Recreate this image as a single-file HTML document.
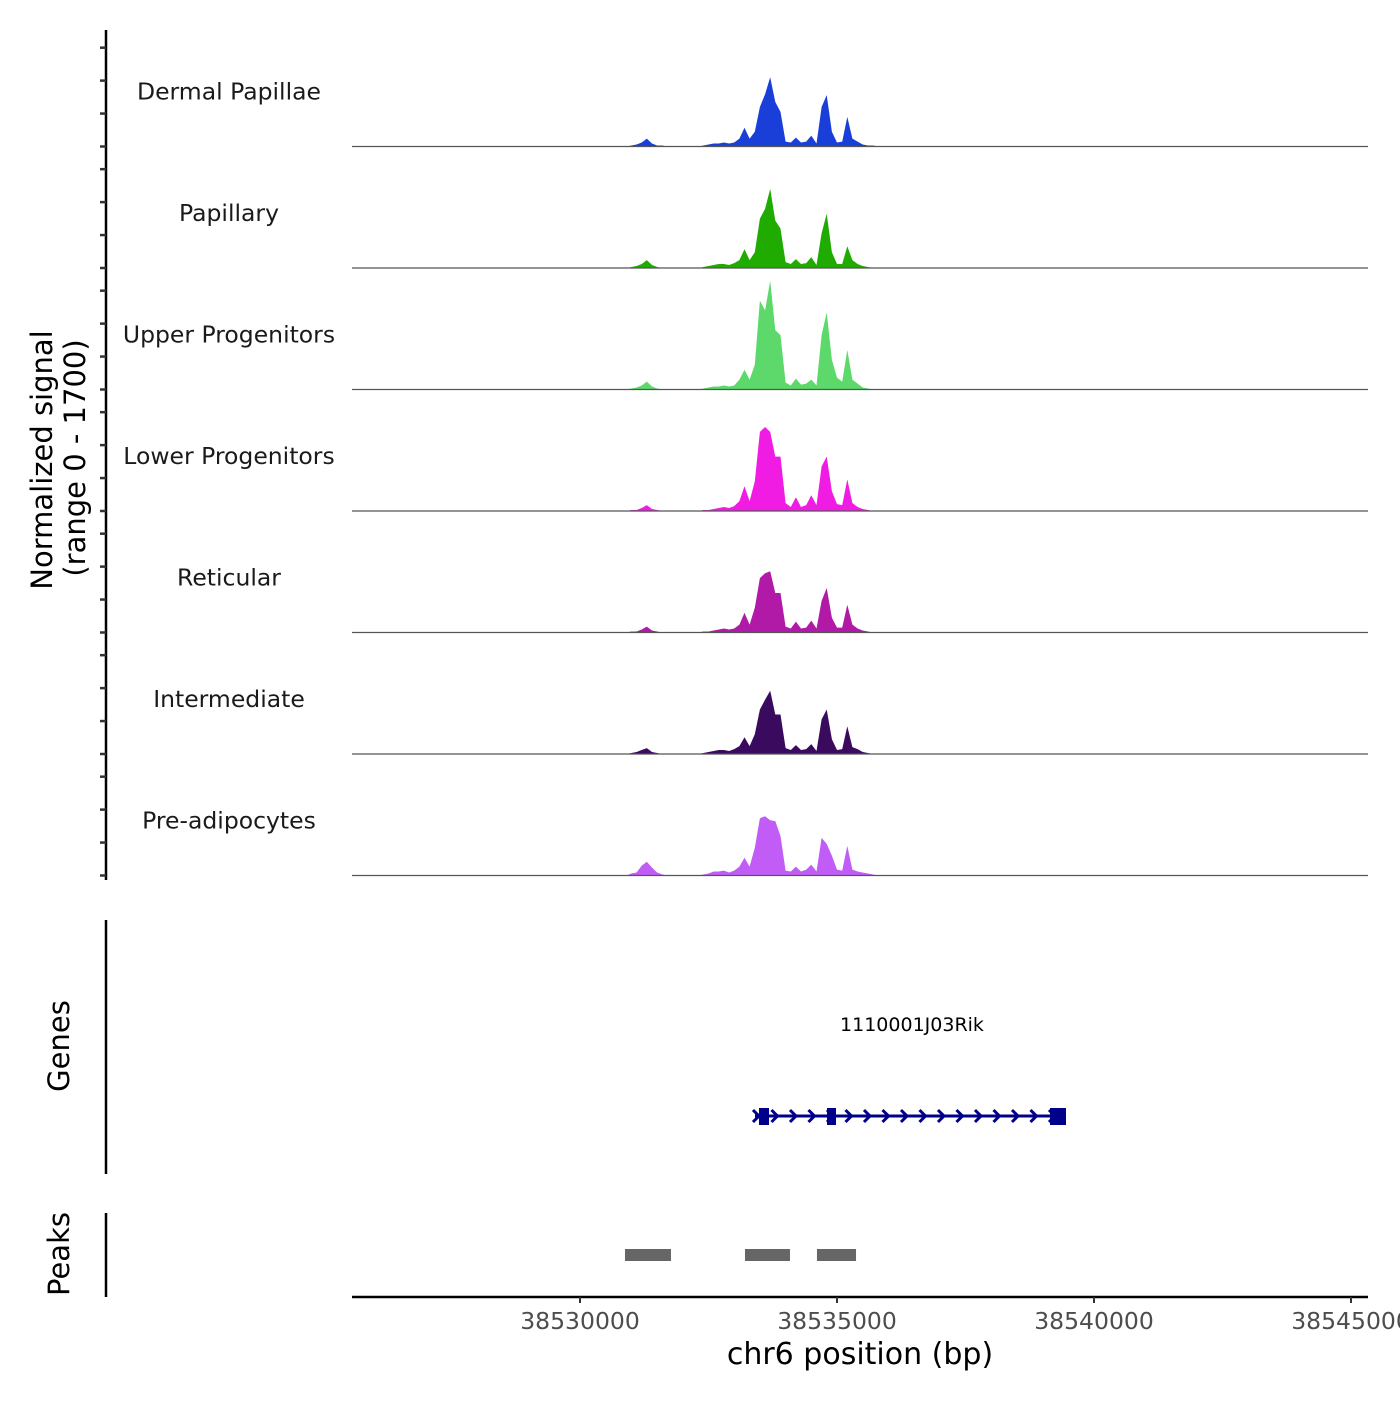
<!DOCTYPE html>
<html><head><meta charset="utf-8"><style>
body{margin:0;background:#fff;}
svg text{font-family:"DejaVu Sans","Liberation Sans",sans-serif;}
</style></head><body>
<svg id="chart" width="1400" height="1400" xmlns="http://www.w3.org/2000/svg">
<g id="tracks"></g>
<g id="yaxis"><line x1="106" y1="30" x2="106" y2="880" stroke="#000" stroke-width="2.5"/></g>
<text transform="translate(52,460) rotate(-90)" text-anchor="middle" font-size="29">Normalized signal</text>
<text transform="translate(85,458) rotate(-90)" text-anchor="middle" font-size="29">(range 0 - 1700)</text>
<g id="genes">
<line x1="106" y1="920" x2="106" y2="1174" stroke="#000" stroke-width="2.5"/>
<text transform="translate(69,1046) rotate(-90)" text-anchor="middle" font-size="29">Genes</text>
<text x="912" y="1031" text-anchor="middle" font-size="19">1110001J03Rik</text>
</g>
<g id="peaks">
<line x1="106" y1="1213" x2="106" y2="1297" stroke="#000" stroke-width="2.5"/>
<text transform="translate(69,1254) rotate(-90)" text-anchor="middle" font-size="29">Peaks</text>
</g>
<g id="xaxis">
<line x1="352" y1="1297" x2="1368" y2="1297" stroke="#000" stroke-width="2.5"/>
<text x="860" y="1364" text-anchor="middle" font-size="30">chr6 position (bp)</text>
</g>
</svg>
<script>
const trackNames=["Dermal Papillae","Papillary","Upper Progenitors","Lower Progenitors","Reticular","Intermediate","Pre-adipocytes"];
const trackColors=["#1a3fd9","#1fab00","#5cd96a","#f01ce3","#b01aa6","#3a0a5e","#c15cf7"];
const binStart=38530800;
const binStep=100;
const dermalPapillae=[0,0,15,30,60,120,45,15,15,0,0,0,0,0,0,0,15,30,45,45,60,45,60,120,285,120,225,600,795,1050,675,525,75,60,135,60,75,165,45,600,780,225,60,75,450,120,75,30,15,15,0];
const papillary=[0,0,15,30,60,120,45,15,0,0,0,0,0,0,0,0,15,30,45,60,60,45,75,120,285,120,240,750,900,1200,720,600,90,60,135,60,75,165,45,525,825,240,60,60,330,120,60,30,15,0,0];
const upperProgenitors=[0,0,15,30,60,120,45,15,0,0,0,0,0,0,0,0,15,30,45,45,60,45,60,150,300,150,375,1350,1200,1650,900,825,105,60,165,75,90,150,60,825,1170,450,180,120,600,150,90,30,15,0,0];
const lowerProgenitors=[0,0,15,15,45,90,30,15,0,0,0,0,0,0,0,0,15,15,30,45,60,45,75,150,375,150,450,1200,1275,1200,825,825,120,60,210,60,90,240,90,675,825,300,105,90,480,120,60,30,15,0,0];
const reticular=[0,0,15,15,45,90,30,15,0,0,0,0,0,0,0,0,15,15,30,45,60,45,60,120,300,120,375,825,900,930,600,600,90,60,165,60,75,180,60,480,675,225,75,75,420,120,60,30,15,0,0];
const intermediate=[0,0,15,30,60,90,30,15,0,0,0,0,0,0,0,0,15,30,45,60,60,45,75,120,255,120,300,675,825,960,600,600,90,60,135,60,75,150,45,525,675,225,60,75,420,105,75,30,15,0,0];
const preAdipocytes=[0,0,30,45,150,210,120,45,15,0,0,0,0,0,0,0,15,30,60,60,75,45,75,135,270,135,420,870,900,840,825,600,75,60,135,60,90,165,60,570,480,300,90,75,450,90,60,45,30,15,0];
const trackValues=[dermalPapillae,papillary,upperProgenitors,lowerProgenitors,reticular,intermediate,preAdipocytes];
const yTicks=[0,500,1000,1500];
const xTicks=[38530000,38535000,38540000,38545000];
const peakStarts=[38530875,38533210,38534610];
const peakEnds=[38531770,38534085,38535370];
const exonStarts=[38533482,38534805,38539144];
const exonEnds=[38533677,38534980,38539455];
const geneStart=38533404;
const geneEnd=38539435;

const NS="http://www.w3.org/2000/svg";
const xScale=bp=>352+(bp-38525564)*257/5000;
const trackH=121.5, firstBase=146.5, yMax=1700, pxMax=112;
const yScale=(v,t)=>firstBase+t*trackH - v/yMax*pxMax;
function mk(tag,attrs,parent){const e=document.createElementNS(NS,tag);for(const k in attrs)e.setAttribute(k,attrs[k]);parent.appendChild(e);return e;}
const tracks=document.getElementById('tracks');
const yaxis=document.getElementById('yaxis');
trackValues.forEach((vals,t)=>{
  const g=mk('g',{},tracks);
  
  
  const base=yScale(0,t);
  let d='M'+xScale(binStart)+','+base;
  vals.forEach((v,i)=>{d+=' L'+xScale(binStart+i*binStep).toFixed(1)+','+yScale(v,t).toFixed(1);});
  d+=' L'+xScale(binStart+(vals.length-1)*binStep)+','+base+' Z';
  const a=mk('path',{d:d,fill:trackColors[t]},g);
  
  
  const bl=mk('line',{x1:352,x2:1368,y1:base,y2:base,stroke:'#555','stroke-width':1.2},g);
  
  
  const lb=mk('text',{x:229,y:base-47,'text-anchor':'middle','font-size':23.5,fill:'#1a1a1a'},g);
  lb.textContent=trackNames[t];
  
  
  yTicks.forEach(v=>{
    const tk=mk('line',{x1:100,x2:106,y1:yScale(v,t),y2:yScale(v,t),stroke:'#333','stroke-width':2.5},yaxis);
    
    
  });
});
const xaxis=document.getElementById('xaxis');
xTicks.forEach(v=>{
  const x=xScale(v);
  const tk=mk('line',{x1:x,x2:x,y1:1297,y2:1303,stroke:'#333','stroke-width':2},xaxis);
  
  
  const tl=mk('text',{x:x,y:1329,'text-anchor':'middle','font-size':23.5,fill:'#4d4d4d'},xaxis);
  tl.textContent=v;
  
  
});
const peaks=document.getElementById('peaks');
peakStarts.forEach((s,i)=>{
  const r=mk('rect',{x:xScale(s),y:1249,width:xScale(peakEnds[i])-xScale(s),height:12,fill:'#666'},peaks);
  
  
});
const genes=document.getElementById('genes');
const gx1=xScale(geneStart), gx2=xScale(geneEnd);
const gl=mk('line',{x1:gx1,x2:gx2,y1:1116,y2:1116,stroke:'#00008b','stroke-width':3},genes);


for(let x=gx1+2;x<gx2-5;x+=18.5){
  const c=mk('path',{d:`M${x-4},1110 L${x+2},1116 L${x-4},1122`,stroke:'#00008b','stroke-width':3,fill:'none'},genes);
  
  
}
exonStarts.forEach((s,i)=>{
  const r=mk('rect',{x:xScale(s),y:1108,width:xScale(exonEnds[i])-xScale(s),height:17,fill:'#00008b'},genes);
  
  
});
</script>
</body></html>
